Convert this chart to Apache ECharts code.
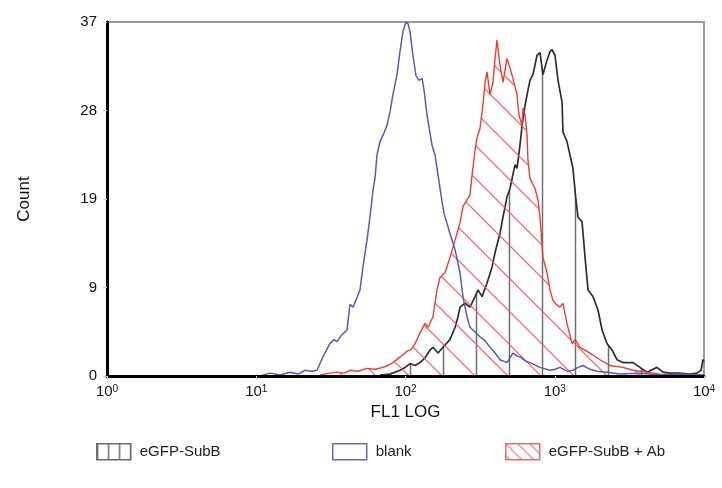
<!DOCTYPE html>
<html>
<head>
<meta charset="utf-8">
<script src="https://cdn.jsdelivr.net/npm/echarts@6/dist/echarts.min.js"></script>
<style>
  html, body { margin: 0; padding: 0; background: #fff; }
  #chart { width: 722px; height: 488px; }
</style>
</head>
<body>
<div id="chart"></div>
<script>
// FL1 fluorescence (log decades) and cell counts per histogram trace
const blankLog = [1.025,1.092,1.159,1.226,1.280,1.327,1.374,1.407,1.450,1.494,1.521,1.541,1.568,1.608,1.628,1.648,1.675,1.695,1.715,1.742,1.762,1.782,1.796,1.809,1.829,1.856,1.876,1.896,1.916,1.943,1.963,1.983,2.003,2.017,2.030,2.050,2.070,2.090,2.111,2.124,2.144,2.178,2.198,2.218,2.238,2.258,2.298,2.332,2.365,2.385,2.412,2.432,2.466,2.499,2.533,2.566,2.600,2.633,2.680,2.700,2.720,2.747,2.767,2.801,2.834,2.901,2.968,3.002,3.035,3.082,3.122,3.156,3.189,3.236,3.283,3.350,3.437,3.571,3.705,3.839,4.000];
const blankCount = [0,0.3,0.1,0.4,0.2,0.6,0.5,0.6,2.1,3.4,3.8,3.6,4.2,4.8,7.5,7.2,8.2,9.0,11.4,14.2,16.6,19.4,20.7,23.1,24.5,25.4,26.2,27.6,29.4,31.5,33.9,36.0,37.0,36.8,36.0,33.5,31.4,30.9,31.1,29.9,27.3,24.1,23.1,21.0,18.9,17.0,14.9,13.2,10.8,8.3,6.2,5.1,4.6,4.1,3.7,3.0,2.4,1.7,1.4,1.9,2.4,2.1,2.0,1.6,1.4,0.9,0.6,0.7,0.9,0.5,0.6,0.9,1.1,0.7,0.5,0.4,0.2,0.3,0.1,0.2,0.1];

const subBLog = [1.829,1.896,1.963,1.997,2.030,2.064,2.097,2.131,2.164,2.184,2.218,2.251,2.298,2.332,2.352,2.365,2.399,2.432,2.466,2.486,2.513,2.546,2.580,2.600,2.633,2.653,2.680,2.700,2.734,2.747,2.767,2.781,2.801,2.821,2.834,2.854,2.881,2.901,2.921,2.948,2.968,2.982,3.002,3.022,3.049,3.055,3.082,3.102,3.122,3.142,3.156,3.183,3.203,3.223,3.256,3.290,3.317,3.350,3.384,3.417,3.457,3.524,3.571,3.618,3.685,3.725,3.772,3.839,3.906,3.953,3.980,3.993,4.000];
const subBCount = [0.1,0.2,0.6,0.9,1.3,1.1,1.4,1.9,2.7,3.0,2.4,3.0,3.8,5.1,6.2,7.2,7.6,7.2,8.3,9.0,8.3,9.7,11.4,12.9,14.9,16.6,18.7,19.6,22.1,21.7,24.1,26.2,28.3,29.9,30.9,31.5,33.5,33.8,31.5,33.0,33.9,34.1,33.5,30.9,28.6,25.5,24.5,23.1,21.7,18.4,16.6,16.1,12.4,9.0,8.3,6.9,4.8,3.4,2.7,1.7,1.4,1.4,0.9,0.4,0.9,0.4,0.3,0.3,0.2,0.3,0.6,1.7,1.5];

const subBAbLog = [1.427,1.494,1.541,1.588,1.628,1.682,1.742,1.796,1.849,1.883,1.916,1.963,1.990,2.010,2.030,2.050,2.077,2.097,2.131,2.151,2.184,2.211,2.231,2.265,2.298,2.332,2.365,2.385,2.412,2.432,2.446,2.466,2.479,2.499,2.519,2.533,2.546,2.566,2.586,2.600,2.613,2.620,2.633,2.653,2.680,2.700,2.720,2.747,2.760,2.781,2.787,2.801,2.814,2.821,2.834,2.854,2.868,2.888,2.901,2.921,2.948,2.968,2.988,3.015,3.035,3.055,3.082,3.116,3.136,3.169,3.203,3.236,3.303,3.370,3.457,3.524,3.618,3.705,3.839,3.973];
const subBAbCount = [0.1,0.3,0.4,0.3,0.6,0.5,0.8,0.7,0.9,1.1,1.4,2.0,2.3,2.6,2.7,3.0,3.8,4.5,5.5,5.1,6.2,9.0,10.3,10.8,12.4,14.2,16.0,17.7,18.4,18.9,21.0,23.6,24.9,25.9,28.3,30.7,31.8,29.4,30.7,33.2,35.1,35.3,32.5,30.7,33.2,32.2,31.1,29.4,27.3,26.2,28.0,27.3,25.2,22.4,20.7,20.0,19.6,18.4,16.6,12.4,10.8,9.0,7.9,7.4,7.2,7.6,5.5,3.4,3.8,3.0,2.7,2.4,1.7,1.1,0.9,0.6,0.4,0.2,0.1,0.1];

const seriesNames = ['eGFP-SubB', 'blank', 'eGFP-SubB + Ab'];
const decadeTicks = [0, 1, 2, 3, 4];
const countMax = 37;

function pairs(xs, ys) { return xs.map((x, i) => [x, ys[i]]); }

// Hatch tiles used as repeating fills
function tile(w, h, draw) {
  const c = document.createElement('canvas');
  c.width = w; c.height = h;
  draw(c.getContext('2d'), w, h);
  return c;
}
function verticalHatch(step, offset, color, width) {
  return tile(step, step, (g, w, h) => {
    g.strokeStyle = color; g.lineWidth = width;
    g.beginPath(); g.moveTo(offset, 0); g.lineTo(offset, h); g.stroke();
  });
}
function diagonalHatch(step, color, width) {
  return tile(step, step, (g, w, h) => {
    g.strokeStyle = color; g.lineWidth = width;
    for (const k of [-1, 0, 1]) {
      g.beginPath(); g.moveTo(-2 + k * step, -2); g.lineTo(step + 2 + k * step, step + 2); g.stroke();
    }
  });
}

const greyLines = { image: verticalHatch(33, 14.5, '#6f6f6f', 1.5), repeat: 'repeat' };
const redLines = { image: diagonalHatch(33, '#ec5a5a', 1.2), repeat: 'repeat' };
const greyLinesSmall = { image: verticalHatch(11, 0.75, '#6f6f6f', 1.5), repeat: 'repeat' };
const redLinesSmall = { image: diagonalHatch(12, '#ec6a6a', 1.2), repeat: 'repeat' };

const chart = echarts.init(document.getElementById('chart'), null, { renderer: 'canvas' });

const font = 'Liberation Sans, Arial, sans-serif';

function legendAt(left, name, style) {
  return {
    left: left, top: 438,
    itemWidth: 34, itemHeight: 16, icon: 'rect',
    selectedMode: false,
    textStyle: { fontFamily: font, fontSize: 15, color: '#222', padding: [0, 0, 0, 4] },
    data: [{ name: name, icon: 'rect', itemStyle: style }]
  };
}

chart.setOption({
  animation: false,
  backgroundColor: '#fff',
  grid: { left: 107, right: 18, top: 22, bottom: 112, show: true, borderColor: '#9a9a9a', borderWidth: 2, backgroundColor: 'transparent' },
  legend: [
    legendAt(91, seriesNames[0], { color: greyLinesSmall, borderColor: '#6a6a6a', borderWidth: 1.5 }),
    legendAt(327, seriesNames[1], { color: '#ffffff', borderColor: '#6a6ac0', borderWidth: 1.5 }),
    legendAt(500, seriesNames[2], { color: redLinesSmall, borderColor: '#ec6a6a', borderWidth: 1.5 })
  ],
  xAxis: {
    type: 'value', min: decadeTicks[0], max: decadeTicks[decadeTicks.length - 1], interval: 1,
    z: 5,
    name: 'FL1 LOG', nameLocation: 'middle', nameGap: 28,
    nameTextStyle: { fontFamily: font, fontSize: 17, color: '#111' },
    axisLine: { lineStyle: { color: '#000', width: 3 } },
    axisTick: { show: true, length: 4, lineStyle: { color: '#d0d0d0' } },
    splitLine: { show: false },
    axisLabel: {
      margin: 8,
      formatter: v => '{b|10}{s|' + v + '}',
      rich: {
        b: { fontFamily: font, fontSize: 15, color: '#111' },
        s: { fontFamily: font, fontSize: 10, color: '#111', verticalAlign: 'top' }
      }
    }
  },
  yAxis: {
    type: 'value', min: 0, max: countMax, interval: countMax / 4,
    z: 5,
    name: 'Count', nameLocation: 'middle', nameGap: 74, nameRotate: 90,
    nameTextStyle: { fontFamily: font, fontSize: 17, color: '#111' },
    axisLine: { show: true, lineStyle: { color: '#000', width: 3 } },
    axisTick: { show: true, length: 4, lineStyle: { color: '#d0d0d0' } },
    splitLine: { show: false },
    axisLabel: { margin: 10, fontFamily: font, fontSize: 15, color: '#111', formatter: v => String(Math.round(v)) }
  },
  series: [
    {
      name: seriesNames[0], type: 'line', showSymbol: false, symbol: 'none',
      data: pairs(subBLog, subBCount),
      lineStyle: { color: '#2e2e2e', width: 1.7 },
      itemStyle: { color: '#2e2e2e' },
      areaStyle: { color: greyLines, opacity: 1 },
      z: 2
    },
    {
      name: seriesNames[2], type: 'line', showSymbol: false, symbol: 'none',
      data: pairs(subBAbLog, subBAbCount),
      lineStyle: { color: '#f03a3a', width: 1.4 },
      itemStyle: { color: '#f03a3a' },
      areaStyle: { color: redLines, opacity: 1 },
      z: 3
    },
    {
      name: seriesNames[1], type: 'line', showSymbol: false, symbol: 'none',
      data: pairs(blankLog, blankCount),
      lineStyle: { color: '#5a5ab4', width: 1.5 },
      itemStyle: { color: '#5a5ab4' },
      z: 4
    }
  ]
});
</script>
</body>
</html>
